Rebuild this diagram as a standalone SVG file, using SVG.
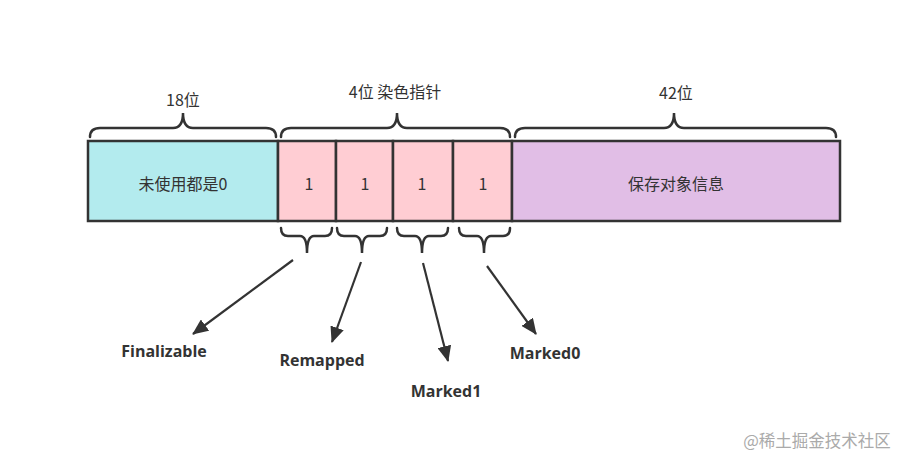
<svg xmlns="http://www.w3.org/2000/svg" width="903" height="457" viewBox="0 0 903 457">
<style>
.cell{stroke:#333;stroke-width:2.5}
.t{font-family:"Noto Sans CJK SC","Noto Sans",sans-serif;font-size:16px;fill:#333;text-anchor:middle;dominant-baseline:central}
.br{fill:none;stroke:#333;stroke-width:2.5;stroke-linecap:round}
.lbl{font-family:"Open Sans","Noto Sans",sans-serif;font-weight:bold;font-size:16px;fill:#333;text-anchor:middle;dominant-baseline:central}
.ar{stroke:#333;stroke-width:2.2;fill:none}
</style>
<defs>
<marker id="ah" markerWidth="16" markerHeight="14" refX="15" refY="7" orient="auto" markerUnits="userSpaceOnUse" viewBox="0 0 16 14">
<path d="M0,0 L16,7 L0,14 Z" fill="#333"/>
</marker>
</defs>
<rect width="903" height="457" fill="#fff"/>
<g id="unused"><rect class="cell" x="88" y="141" width="190" height="80" fill="#b3ebee"/><text class="t" x="183" y="183">未使用都是0</text></g>
<g id="bit1"><rect class="cell" x="278" y="141" width="58" height="80" fill="#ffcdd3"/><text class="t" x="309" y="183">1</text></g>
<g id="bit2"><rect class="cell" x="336" y="141" width="57" height="80" fill="#ffcdd3"/><text class="t" x="365" y="183">1</text></g>
<g id="bit3"><rect class="cell" x="393" y="141" width="60" height="80" fill="#ffcdd3"/><text class="t" x="422" y="183">1</text></g>
<g id="bit4"><rect class="cell" x="453" y="141" width="59" height="80" fill="#ffcdd3"/><text class="t" x="483" y="183">1</text></g>
<g id="info"><rect class="cell" x="512" y="141" width="328" height="80" fill="#e1bee6"/><text class="t" x="676" y="183">保存对象信息</text></g>
<g id="brace18"><path class="br" d="M90,137 Q90,128 100,128 L173,128 Q183,128 183,113 Q183,128 193,128 L266,128 Q276,128 276,137"/><text class="t" x="183" y="99">18位</text></g>
<g id="brace4"><path class="br" d="M281,137 Q281,128 291,128 L387,128 Q397,128 397,113 Q397,128 407,128 L500,128 Q510,128 510,137"/><text class="t" x="395" y="91">4位 染色指针</text></g>
<g id="brace42"><path class="br" d="M515,137 Q515,128 525,128 L664,128 Q674,128 674,113 Q674,128 684,128 L826,128 Q836,128 836,137"/><text class="t" x="676" y="92">42位</text></g>
<g id="b1"><path class="br" d="M281,228 Q281,236 288,236 L300,236 Q307,236 307,253 Q307,236 314,236 L325,236 Q332,236 332,228"/></g>
<g id="b2"><path class="br" d="M337,228 Q337,236 344,236 L355,236 Q362,236 362,253 Q362,236 369,236 L380,236 Q387,236 387,228"/></g>
<g id="b3"><path class="br" d="M397,228 Q397,236 404,236 L415,236 Q422,236 422,253 Q422,236 429,236 L441,236 Q448,236 448,228"/></g>
<g id="b4"><path class="br" d="M459,228 Q459,236 466,236 L477,236 Q484,236 484,253 Q484,236 491,236 L503,236 Q510,236 510,228"/></g>
<g id="connectors">
<line class="ar" x1="293" y1="260" x2="193" y2="334" marker-end="url(#ah)"/>
<line class="ar" x1="361" y1="262" x2="332" y2="342" marker-end="url(#ah)"/>
<line class="ar" x1="423" y1="263" x2="448" y2="361" marker-end="url(#ah)"/>
<line class="ar" x1="487" y1="266" x2="536" y2="334" marker-end="url(#ah)"/>
</g>
<text class="lbl" x="164" y="351">Finalizable</text>
<text class="lbl" x="322" y="360">Remapped</text>
<text class="lbl" x="446" y="391">Marked1</text>
<text class="lbl" x="545" y="353">Marked0</text>
<text x="817" y="440" font-family="Noto Sans CJK SC,sans-serif" font-size="16.5" fill="#aaaaaa" text-anchor="middle" dominant-baseline="central">@稀土掘金技术社区</text>
</svg>
